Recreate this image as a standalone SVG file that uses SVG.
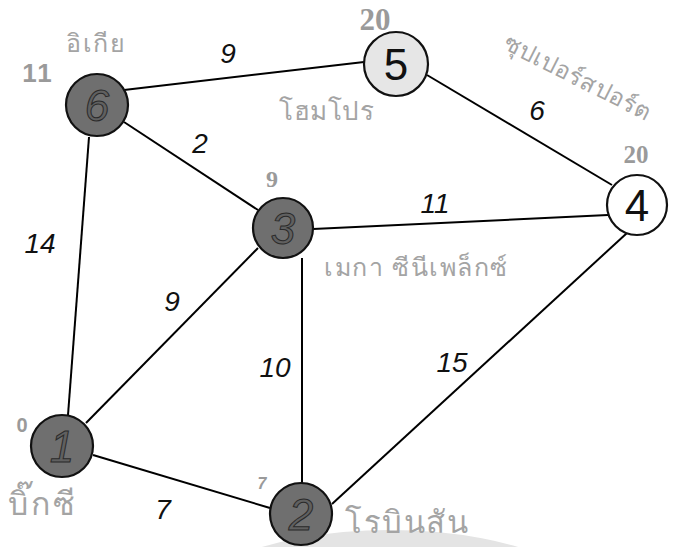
<svg xmlns="http://www.w3.org/2000/svg" width="675" height="547" viewBox="0 0 675 547">
  <style>
    .edge { stroke: #000; stroke-width: 2; fill: none; }
    .node { stroke: #111; stroke-width: 2.2; }
    .dark { fill: #6f6f6f; }
    .light { fill: #e6e6e6; }
    .white { fill: #ffffff; }
    .num { font-family: "Liberation Sans", Arial, sans-serif; font-size: 44px; text-anchor: middle; }
    .num-dark { fill: #606060; stroke: #2a2a2a; stroke-width: 1; font-style: italic; }
    .num-light { fill: #111; }
    .w { font-family: "Liberation Sans", Arial, sans-serif; font-size: 28px; font-style: italic; fill: #111; text-anchor: middle; }
    .dist { fill: #9a9a9a; font-weight: bold; text-anchor: middle; }
    .dist-sans { font-family: "Liberation Sans", Arial, sans-serif; }
    .dist-serif { font-family: "Liberation Serif", "Times New Roman", serif; }
    .place { font-family: "Noto Sans", "Noto Sans CJK SC", "DejaVu Sans", sans-serif; fill: #a4a4a4; }
  </style>

  <rect width="675" height="547" fill="#ffffff"/>
  <!-- faint grey arc along the lower edge -->
  <ellipse cx="390" cy="640" rx="240" ry="110" fill="#e4e4e4"/>

  <g id="connectors">
    <line class="edge" x1="124" y1="90" x2="364" y2="62"/>
    <line class="edge" x1="124" y1="122" x2="258" y2="210"/>
    <line class="edge" x1="89" y1="137" x2="68" y2="415"/>
    <line class="edge" x1="427" y1="75" x2="612" y2="185"/>
    <line class="edge" x1="313" y1="229" x2="608" y2="215"/>
    <line class="edge" x1="258" y1="248" x2="86" y2="423"/>
    <line class="edge" x1="302" y1="258" x2="302" y2="484"/>
    <line class="edge" x1="627" y1="233" x2="332" y2="504"/>
    <line class="edge" x1="93" y1="455" x2="270" y2="508"/>
  </g>

  <g id="weights">
    <text class="w" x="228" y="63">9</text>
    <text class="w" x="537" y="120">6</text>
    <text class="w" x="200" y="153">2</text>
    <text class="w" x="435" y="213">11</text>
    <text class="w" x="40" y="253">14</text>
    <text class="w" x="172" y="311">9</text>
    <text class="w" x="275" y="377">10</text>
    <text class="w" x="452" y="372">15</text>
    <text class="w" x="163" y="519">7</text>
  </g>

  <g id="node-6">
    <circle class="node dark" cx="97" cy="105" r="31"/>
    <text class="num num-dark" x="97" y="121">6</text>
    <text class="dist dist-sans" x="38" y="82" font-size="26" letter-spacing="2">11</text>
    <text class="place" x="66" y="52" font-size="25" letter-spacing="1.5">อิเกีย</text>
  </g>

  <g id="node-5">
    <circle class="node light" cx="396" cy="64" r="32"/>
    <text class="num num-light" x="396" y="80">5</text>
    <text class="dist dist-serif" x="375" y="30" font-size="31">20</text>
    <text class="place" x="279" y="120" font-size="26" letter-spacing="0.5">โฮมโปร</text>
  </g>

  <g id="node-4">
    <circle class="node white" cx="637" cy="205" r="30"/>
    <text class="num num-light" x="637" y="221">4</text>
    <text class="dist dist-serif" x="636" y="163" font-size="25">20</text>
    <text class="place" x="0" y="0" font-size="24" letter-spacing="0.8" transform="translate(502,48) rotate(27)">ซุปเปอร์สปอร์ต</text>
  </g>

  <g id="node-3">
    <circle class="node dark" cx="283" cy="228" r="30"/>
    <text class="num num-dark" x="283" y="244">3</text>
    <text class="dist dist-serif" x="272" y="187" font-size="24">9</text>
    <text class="place" x="324" y="276" font-size="25" letter-spacing="1.5">เมกา ซีนีเพล็กซ์</text>
  </g>

  <g id="node-1">
    <circle class="node dark" cx="62" cy="446" r="31"/>
    <text class="num num-dark" x="62" y="462">1</text>
    <text class="dist dist-sans" x="22" y="432" font-size="20">0</text>
    <text class="place" x="8" y="515" font-size="32" letter-spacing="3">บิ๊กซี</text>
  </g>

  <g id="node-2">
    <circle class="node dark" cx="301" cy="514" r="31"/>
    <text class="num num-dark" x="301" y="530">2</text>
    <text class="dist dist-sans" x="262" y="489" font-size="16" font-style="italic">7</text>
    <text class="place" x="345" y="533" font-size="31" letter-spacing="1.5">โรบินสัน</text>
  </g>
</svg>
